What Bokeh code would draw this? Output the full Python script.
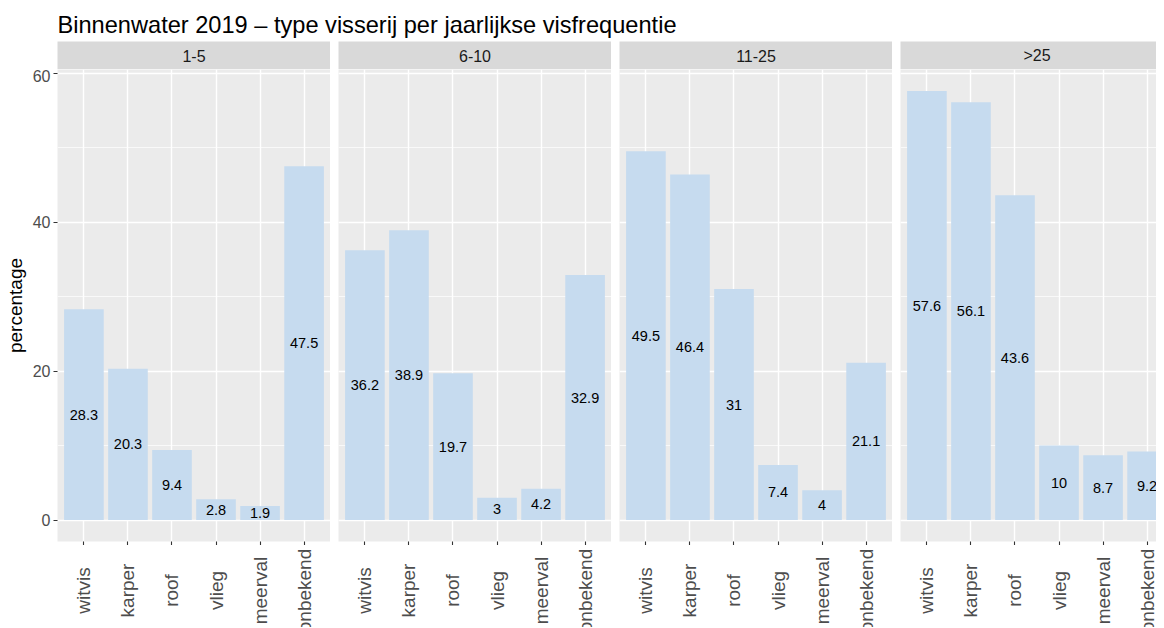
import math
import pandas as pd
from bokeh.plotting import figure
from bokeh.models import (ColumnDataSource, Range1d, FixedTicker, SingleIntervalTicker,
                          LabelSet, Label)
from bokeh.layouts import row, column
from bokeh.embed import file_html
from bokeh.resources import INLINE
from bokeh.core.properties import value

# ---------------- data ----------------
title_text = "Binnenwater 2019 – type visserij per jaarlijkse visfrequentie"
frequencies = ["1-5", "6-10", "11-25", ">25"]
fish_types = ["witvis", "karper", "roof", "vlieg", "meerval", "onbekend"]
pct_1_5 = [28.3, 20.3, 9.4, 2.8, 1.9, 47.5]
pct_6_10 = [36.2, 38.9, 19.7, 3.0, 4.2, 32.9]
pct_11_25 = [49.5, 46.4, 31.0, 7.4, 4.0, 21.1]
pct_gt25 = [57.6, 56.1, 43.6, 10.0, 8.7, 9.2]
y_label = "percentage"
y_ticks = [0, 20, 40, 60]

series = [pct_1_5, pct_6_10, pct_11_25, pct_gt25]

# ---------------- style / geometry ----------------
FONT = "Liberation Sans"
BAR = "#C6DBEF"
PANEL_BG = "#EBEBEB"
STRIP_BG = "#D9D9D9"
PAGE_W = 1164
LEFT = 57
GAP = 8
FRAME_W = 273
LAST_W = PAGE_W - LEFT - 3 * (FRAME_W + GAP) - GAP   # last panel cut off at the right edge
FRAME_H = 472
STRIP_H = 28
TITLE_H = 41
LAB_H = 82

positions = list(range(1, len(fish_types) + 1))
X_START = 0.4
X_END = len(fish_types) + 0.6
PX_PER_X = FRAME_W / (X_END - X_START)

ymax_data = max(max(s) for s in series)
YMIN = -0.05 * ymax_data
YMAX = ymax_data * 1.05

# ---------------- title ----------------
tf = figure(frame_width=PAGE_W - LEFT, frame_height=TITLE_H, x_range=Range1d(0, 1),
            y_range=Range1d(-TITLE_H, 0), output_backend="svg", toolbar_location=None,
            x_axis_location=None, y_axis_location=None, title=None,
            min_border_left=LEFT, min_border_right=0, min_border_top=0,
            min_border_bottom=0, background_fill_color="white",
            border_fill_color="white", outline_line_color=None)
tf.grid.visible = False
tf.add_layout(Label(x=0, y=-24, text=title_text, text_align="left",
                    text_baseline="alphabetic", text_font=FONT,
                    text_font_size="23.6px", text_color="black"))


def fmt(v):
    return f"{v:g}"


cols = []
for i, (freq, vals) in enumerate(zip(frequencies, series)):
    first = i == 0
    last = i == len(frequencies) - 1
    fw = LAST_W if last else FRAME_W
    x_end = X_START + fw / PX_PER_X
    left = LEFT if first else GAP
    xr = Range1d(X_START, x_end)

    # ---- facet strip ----
    s = figure(frame_width=fw, frame_height=STRIP_H, x_range=xr,
               y_range=Range1d(0, 1), output_backend="svg", toolbar_location=None,
               x_axis_location=None, y_axis_location=None, title=None,
               min_border_left=left, min_border_right=0, min_border_top=0,
               min_border_bottom=0, background_fill_color=STRIP_BG,
               border_fill_color="white", outline_line_color=None)
    s.grid.visible = False
    s.add_layout(Label(x=(X_START + X_END) / 2, y=0.5, text=freq, text_align="center",
                       text_baseline="middle", text_font=FONT, text_font_size="16px",
                       text_color="#1A1A1A"))

    # ---- panel ----
    df = pd.DataFrame({"type": fish_types, "pos": positions, "pct": vals})
    df["half"] = df["pct"] / 2
    df["lab"] = df["pct"].map(fmt)
    src = ColumnDataSource(df)

    p = figure(frame_width=fw, frame_height=FRAME_H, x_range=xr,
               y_range=Range1d(YMIN, YMAX), output_backend="svg", toolbar_location=None,
               title=None, x_axis_location="below",
               y_axis_location="left" if first else None,
               min_border_left=left, min_border_right=0, min_border_top=0,
               min_border_bottom=0, background_fill_color=PANEL_BG,
               border_fill_color="white", outline_line_color=None)

    p.xgrid.ticker = FixedTicker(ticks=positions)
    p.xgrid.grid_line_color = "white"
    p.xgrid.grid_line_width = 1.4
    p.ygrid.ticker = SingleIntervalTicker(interval=20, num_minor_ticks=2)
    p.ygrid.grid_line_color = "white"
    p.ygrid.grid_line_width = 1.4
    p.ygrid.minor_grid_line_color = "white"
    p.ygrid.minor_grid_line_width = 0.7

    p.vbar(x="pos", top="pct", bottom=0, width=0.9, source=src,
           fill_color=BAR, line_color=None)

    p.add_layout(LabelSet(x="pos", y="half", text="lab", source=src,
                          text_align="center", text_baseline="middle",
                          text_font=value(FONT), text_font_size="14.5px",
                          text_color="black"))

    # x axis: tick marks only (category names are drawn centred below)
    xa = p.xaxis[0]
    xa.ticker = FixedTicker(ticks=positions)
    xa.major_label_text_font_size = "1px"
    xa.major_label_text_color = None
    xa.major_label_standoff = 0
    xa.major_tick_out = 4
    xa.major_tick_in = 0
    xa.major_tick_line_color = "#333333"
    xa.major_tick_line_width = 1.1
    xa.minor_tick_line_color = None
    xa.axis_line_color = None

    if first:
        ya = p.yaxis[0]
        ya.ticker = FixedTicker(ticks=y_ticks)
        ya.axis_label = y_label
        ya.axis_label_text_font = FONT
        ya.axis_label_text_font_size = "19px"
        ya.axis_label_text_font_style = "normal"
        ya.axis_label_text_color = "black"
        ya.axis_label_standoff = 4
        ya.major_label_text_font = FONT
        ya.major_label_text_font_size = "16px"
        ya.major_label_text_color = "#4D4D4D"
        ya.major_label_standoff = 3
        ya.major_tick_out = 4
        ya.major_tick_in = 0
        ya.major_tick_line_color = "#333333"
        ya.major_tick_line_width = 1.1
        ya.minor_tick_line_color = None
        ya.axis_line_color = None

    # ---- category names below the panel ----
    lf = figure(frame_width=fw, frame_height=LAB_H, x_range=xr,
                y_range=Range1d(-LAB_H, 0), output_backend="svg", toolbar_location=None,
                x_axis_location=None, y_axis_location=None, title=None,
                min_border_left=left, min_border_right=0, min_border_top=0,
                min_border_bottom=0, background_fill_color="white",
                border_fill_color="white", outline_line_color=None)
    lf.grid.visible = False
    lsrc = ColumnDataSource({"pos": positions, "type": fish_types,
                             "y": [-45] * len(fish_types)})
    lf.text(x="pos", y="y", text="type", source=lsrc, angle=math.pi / 2,
            text_align="center", text_baseline="middle", text_font=value(FONT),
            text_font_size="19px", text_color="#4D4D4D")

    cols.append(column(s, p, lf))

layout = column(tf, row(*cols))

open("out.html", "w").write(file_html(layout, INLINE))
